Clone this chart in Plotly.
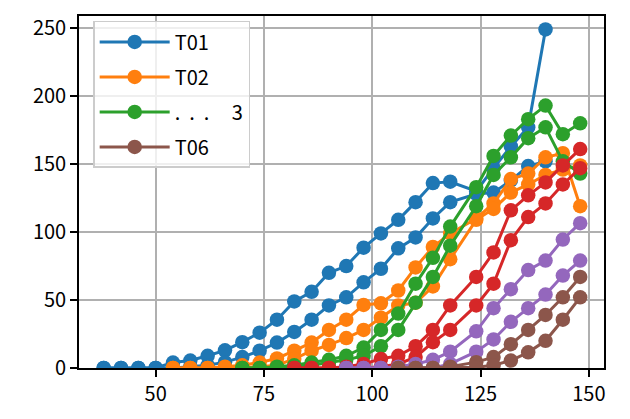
import plotly.graph_objects as go

# shared x grid
X = [38, 42, 46, 50, 54, 58, 62, 66, 70, 74, 78, 82, 86, 90, 94, 98, 102, 106,
     110, 114, 118, 124, 128, 132, 136, 140, 144, 148]

# series values (start x given separately)
t01_a = [0, 0, 0, 0, 4, 5.5, 9, 13, 19, 26, 35.5, 49, 56, 70, 75, 88.5, 99, 109,
         122, 136, 137, 130, 147, 163, 177, 249]
t01_b = [0, 0, 0, 0, 0, 1, 2, 4.3, 8, 12.7, 18.7, 26.5, 35.5, 46, 52, 63, 73, 88,
         96, 110, 122, 128, 129, 138, 148.5, 152]
t02_a = [0, 0, 0, 1, 2, 4, 7, 12.7, 18.7, 28, 35.5, 46.4, 47.6, 57, 74, 89, 99,
         110, 121, 139, 143, 155, 158, 119]
t02_b = [0, 0, 0, 0, 0, 1, 2, 6.7, 12.7, 17, 22, 28, 37, 46, 48, 60, 80, 109, 117,
         129, 135, 142, 146, 149]
t03_a = [0, 0, 1, 2, 4, 6, 9, 15, 28, 40, 62, 81, 104, 133, 156, 171, 183, 193,
         172, 180]
t03_b = [0, 0, 0, 1, 2, 4, 6, 9, 16, 28, 48, 67, 90, 119, 142, 155, 169, 177,
         152, 143]
t04_a = [0, 0, 0, 1, 3, 6.7, 9, 16, 28, 46, 67, 85, 116, 127, 136.5, 149, 161]
t04_b = [0, 0, 0, 0, 0, 1, 3, 8, 19, 28, 46, 62, 94, 111, 121, 135, 147]
t05_a = [0, 0, 0, 1, 3, 6, 12, 27, 44, 58, 72, 79, 94.5, 106.5]
t05_b = [0, 0, 0, 0, 0, 0, 3, 12, 21, 34, 44, 54, 68, 79]
t06_a = [0, 0, 0, 1, 4.3, 8, 17.5, 28, 39, 52, 67]
t06_b = [0, 0, 0, 0, 0.5, 2, 5.5, 11.5, 20, 35.5, 52]

starts = {"t01": 38, "t02": 54, "t03": 70, "t04": 82, "t05": 94, "t06": 106}
legend_labels = ["T01", "T02",
                 ".\u00a0\u00a0.\u00a0\u00a0.\u00a0\u00a0\u00a0\u00a0\u00a03",
                 None, None, "T06"]
colors = ["#1f77b4", "#ff7f0e", "#2ca02c", "#d62728", "#9467bd", "#8c564b"]

groups = [("t01", t01_a, t01_b), ("t02", t02_a, t02_b), ("t03", t03_a, t03_b),
          ("t04", t04_a, t04_b), ("t05", t05_a, t05_b), ("t06", t06_a, t06_b)]

fig = go.Figure()
for gi, (key, ya, yb) in enumerate(groups):
    i0 = X.index(starts[key])
    for si, ys in enumerate((ya, yb)):
        xs = X[i0:i0 + len(ys)]
        lab = legend_labels[gi]
        show = (si == 0 and lab is not None)
        fig.add_trace(go.Scatter(
            x=xs, y=ys, mode="lines+markers",
            line=dict(color=colors[gi], width=3),
            marker=dict(color=colors[gi], size=14.5),
            name=lab if lab else key, showlegend=show,
            legendgroup=key + str(si),
        ))

axis_common = dict(
    showgrid=True, gridcolor="#b0b0b0", gridwidth=1.6,
    showline=True, linecolor="black", linewidth=1.6, mirror=True,
    ticks="outside", ticklen=7, tickwidth=1.6, tickcolor="black",
    zeroline=False, tickfont=dict(size=20),
)
# page body has an 8px margin; figure is sized to fit inside the 630x419 window
fig.update_layout(
    width=614, height=403,
    margin=dict(l=71, r=18, t=4, b=40),
    plot_bgcolor="white", paper_bgcolor="white",
    font=dict(family="Noto Sans CJK JP", size=20, color="black"),
    xaxis=dict(range=[32.3, 153.5], tickvals=[50, 75, 100, 125, 150], **axis_common),
    yaxis=dict(range=[0, 258.9], tickvals=[0, 50, 100, 150, 200, 250], **axis_common),
    legend=dict(x=0.027, y=0.986, xanchor="left", yanchor="top",
                bordercolor="#cccccc", borderwidth=1.5,
                bgcolor="rgba(255,255,255,0.8)", font=dict(size=20),
                traceorder="grouped", tracegroupgap=6, itemwidth=70),
)
fig.write_html("out.html")
